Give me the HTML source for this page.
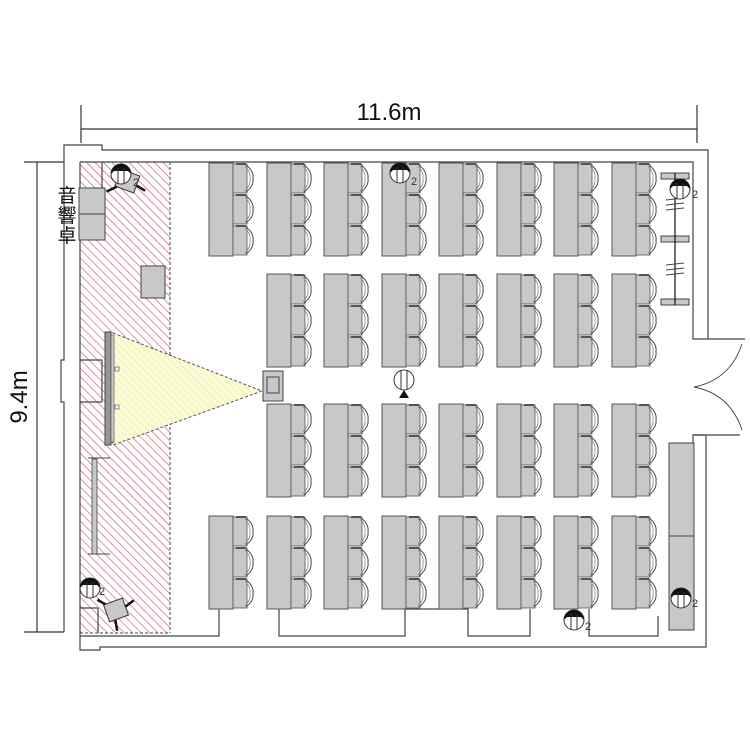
<!DOCTYPE html>
<html><head><meta charset="utf-8"><style>
html,body{margin:0;padding:0;background:#fff;}
svg{display:block;}
</style></head><body>
<svg width="750" height="750" viewBox="0 0 750 750" xmlns="http://www.w3.org/2000/svg">
<defs>
<pattern id="hatch" patternUnits="userSpaceOnUse" width="6" height="6" patternTransform="rotate(-45)">
<rect width="6" height="6" fill="#fff"/>
<line x1="0" y1="0" x2="0" y2="6" stroke="#c85a6e" stroke-width="1.3"/>
</pattern>
<pattern id="yhatch" patternUnits="userSpaceOnUse" width="5" height="5" patternTransform="rotate(-45)">
<rect width="5" height="5" fill="#fbfbd8"/>
<line x1="0" y1="0" x2="0" y2="5" stroke="#e6e69a" stroke-width="1"/>
</pattern>
<g id="chair">
<rect x="0" y="1" width="14" height="29" fill="#c8c8c8" stroke="#555" stroke-width="0.8"/>
<path d="M13,2 Q21,8 20,15.5 Q21,23 13,29" fill="none" stroke="#444" stroke-width="1"/>
<path d="M12,3 Q18,9 17,15.5 Q18,22 12,28" fill="none" stroke="#888" stroke-width="0.8"/>
<rect x="3" y="0" width="10" height="2" fill="#555"/>
</g>
<g id="unit">
<rect x="0" y="0" width="24" height="93" fill="#c8c8c8" stroke="#555" stroke-width="1"/>
<use href="#chair" x="24" y="0"/>
<use href="#chair" x="24" y="31"/>
<use href="#chair" x="24" y="62"/>
</g>
<g id="mic">
<circle cx="0" cy="0" r="10" fill="#fff" stroke="#333" stroke-width="1"/>
<path d="M-10,0 A10,10 0 0 1 10,0 L7,-3 L-7,-3 Z" fill="#111"/>
<path d="M-8,-5 A10,10 0 0 1 8,-5 Z" fill="#111"/>
<line x1="-3" y1="-6" x2="-3" y2="10" stroke="#333"/>
<line x1="3" y1="-6" x2="3" y2="10" stroke="#333"/>
</g>
</defs>

<!-- dimension lines -->
<line x1="81" y1="129" x2="697" y2="129" stroke="#333" stroke-width="1.2"/>
<line x1="81" y1="105" x2="81" y2="143" stroke="#333" stroke-width="1.2"/>
<line x1="697" y1="105" x2="697" y2="143" stroke="#333" stroke-width="1.2"/>
<text x="389" y="120" font-family="Liberation Sans, sans-serif" font-size="24" text-anchor="middle" fill="#111">11.6m</text>
<line x1="37" y1="162" x2="37" y2="632" stroke="#333" stroke-width="1.2"/>
<line x1="24" y1="162" x2="64" y2="162" stroke="#333" stroke-width="1.2"/>
<line x1="24" y1="632" x2="64" y2="632" stroke="#333" stroke-width="1.2"/>
<text x="0" y="0" transform="translate(27,397) rotate(-90)" font-family="Liberation Sans, sans-serif" font-size="24" text-anchor="middle" fill="#111">9.4m</text>

<!-- hatched stage area -->
<rect x="80" y="162" width="90" height="471" fill="url(#hatch)"/>
<line x1="170" y1="162" x2="170" y2="633" stroke="#444" stroke-dasharray="3,2"/>
<line x1="80" y1="633" x2="170" y2="633" stroke="#444" stroke-dasharray="3,2"/>

<!-- walls -->
<g fill="none" stroke="#444" stroke-width="1.2">
<path d="M64,632 L64,402 L61,402 L61,360 L64,360 L64,145 L102,145 L102,150 L708,150 L708,339"/>
<path d="M80,162 L693,162 L693,339 L745,339"/>
<path d="M80,162 L80,636 L219,636 L219,609"/>
<path d="M279,609 L279,636 L405,636 L405,609 L468,609 L468,636 L530,636 L530,609"/>
<path d="M589,609 L589,636 L658,636 L658,616"/>
<path d="M80,636 L80,650 L100,650 L100,647 L706,647 L706,435 L693,435 L693,447"/>
<path d="M693,435 L740,435"/>
<path d="M694,387 Q730,380 742,344" stroke-width="0.9"/>
<path d="M694,387 Q730,394 742,430" stroke-width="0.9"/>
<line x1="80" y1="402" x2="102" y2="402"/>
<line x1="80" y1="360" x2="102" y2="360"/>
<line x1="102" y1="360" x2="102" y2="402"/>
<line x1="102" y1="162" x2="102" y2="188"/>
<line x1="80" y1="608" x2="98" y2="608"/>
<line x1="98" y1="608" x2="98" y2="633"/>
</g>

<!-- audio desk -->
<rect x="79" y="188" width="26" height="26" fill="#c8c8c8" stroke="#444"/>
<rect x="79" y="214" width="26" height="26" fill="#c8c8c8" stroke="#444"/>
<text x="67" y="202" font-family="Liberation Sans, 'Noto Sans CJK JP', sans-serif" font-size="19" text-anchor="middle" fill="#111">音</text>
<text x="67" y="222" font-family="Liberation Sans, 'Noto Sans CJK JP', sans-serif" font-size="19" text-anchor="middle" fill="#111">響</text>
<text x="67" y="242" font-family="Liberation Sans, 'Noto Sans CJK JP', sans-serif" font-size="19" text-anchor="middle" fill="#111">卓</text>

<!-- podium box -->
<rect x="141" y="266" width="24" height="32" fill="#c8c8c8" stroke="#444"/>

<!-- projection cone -->
<polygon points="113,333 262,391 113,445" fill="url(#yhatch)" stroke="#555" stroke-dasharray="3,2"/>
<rect x="105" y="332" width="6" height="113" fill="#999" stroke="#444"/>
<rect x="111" y="335" width="3" height="107" fill="#ccc" stroke="#444" stroke-width="0.6"/>
<rect x="115" y="367" width="4" height="4" fill="#fff" stroke="#444" stroke-width="0.6"/>
<rect x="115" y="405" width="4" height="4" fill="#fff" stroke="#444" stroke-width="0.6"/>
<!-- projector -->
<rect x="263" y="371" width="20" height="30" fill="#c8c8c8" stroke="#444"/>
<rect x="267" y="377" width="12" height="16" fill="#c8c8c8" stroke="#444"/>

<!-- whiteboard stand -->
<line x1="88" y1="458" x2="110" y2="458" stroke="#444"/>
<line x1="88" y1="554" x2="110" y2="554" stroke="#444"/>
<rect x="92" y="459" width="5" height="95" fill="#c8c8c8" stroke="#444" stroke-width="0.8"/>

<!-- cameras -->
<g transform="translate(127,182) rotate(20)">
<rect x="-10" y="-10" width="20" height="18" fill="#c8c8c8" stroke="#333"/>
<line x1="-8" y1="8" x2="-16" y2="16" stroke="#111" stroke-width="2.5"/>
<line x1="10" y1="0" x2="20" y2="2" stroke="#111" stroke-width="2.5"/>
</g>
<use href="#mic" x="121" y="174"/>
<text x="133" y="186" font-family="Liberation Sans, sans-serif" font-size="11" fill="#333">2</text>

<g transform="translate(116,610) rotate(-20)">
<rect x="-10" y="-9" width="20" height="18" fill="#c8c8c8" stroke="#333"/>
<line x1="-8" y1="-9" x2="-14" y2="-16" stroke="#111" stroke-width="2.5"/>
<line x1="10" y1="0" x2="20" y2="-3" stroke="#111" stroke-width="2.5"/>
<line x1="-4" y1="9" x2="-6" y2="20" stroke="#111" stroke-width="2.5"/>
</g>
<use href="#mic" x="90" y="588"/>
<text x="99" y="595" font-family="Liberation Sans, sans-serif" font-size="11" fill="#333">2</text>

<!-- desks row 1 -->
<use href="#unit" x="209" y="163"/><use href="#unit" x="267" y="163"/><use href="#unit" x="324" y="163"/><use href="#unit" x="382" y="163"/>
<use href="#unit" x="439" y="163"/><use href="#unit" x="497" y="163"/><use href="#unit" x="554" y="163"/><use href="#unit" x="612" y="163"/>
<!-- row 2 -->
<use href="#unit" x="267" y="274"/><use href="#unit" x="324" y="274"/><use href="#unit" x="382" y="274"/>
<use href="#unit" x="439" y="274"/><use href="#unit" x="497" y="274"/><use href="#unit" x="554" y="274"/><use href="#unit" x="612" y="274"/>
<!-- row 3 -->
<use href="#unit" x="267" y="404"/><use href="#unit" x="324" y="404"/><use href="#unit" x="382" y="404"/>
<use href="#unit" x="439" y="404"/><use href="#unit" x="497" y="404"/><use href="#unit" x="554" y="404"/><use href="#unit" x="612" y="404"/>
<!-- row 4 -->
<use href="#unit" x="209" y="516"/><use href="#unit" x="267" y="516"/><use href="#unit" x="324" y="516"/><use href="#unit" x="382" y="516"/>
<use href="#unit" x="439" y="516"/><use href="#unit" x="497" y="516"/><use href="#unit" x="554" y="516"/><use href="#unit" x="612" y="516"/>

<!-- mics on desks -->
<use href="#mic" x="400" y="173"/>
<text x="411" y="185" font-family="Liberation Sans, sans-serif" font-size="11" fill="#333">2</text>
<use href="#mic" x="574" y="620"/>
<text x="585" y="630" font-family="Liberation Sans, sans-serif" font-size="11" fill="#333">2</text>

<!-- center mic with arrow -->
<ellipse cx="404" cy="380" rx="10" ry="10" fill="#fff" stroke="#333"/>
<line x1="401" y1="370" x2="401" y2="390" stroke="#333"/>
<line x1="407" y1="370" x2="407" y2="390" stroke="#333"/>
<polygon points="404,390 399,398 409,398" fill="#111"/>

<!-- right side stand -->
<rect x="661" y="173" width="28" height="6" fill="#c8c8c8" stroke="#444"/>
<rect x="661" y="236" width="28" height="6" fill="#c8c8c8" stroke="#444"/>
<rect x="661" y="299" width="28" height="6" fill="#c8c8c8" stroke="#444"/>
<line x1="675" y1="173" x2="675" y2="305" stroke="#111" stroke-width="1.2"/>
<g stroke="#444" stroke-width="0.9">
<line x1="666" y1="200" x2="684" y2="198"/><line x1="666" y1="205" x2="684" y2="203"/><line x1="666" y1="210" x2="684" y2="208"/>
<line x1="666" y1="265" x2="684" y2="263"/><line x1="666" y1="270" x2="684" y2="268"/><line x1="666" y1="275" x2="684" y2="273"/>
</g>
<use href="#mic" x="680" y="189"/>
<text x="692" y="198" font-family="Liberation Sans, sans-serif" font-size="11" fill="#333">2</text>

<!-- right cabinet -->
<rect x="669" y="443" width="25" height="93" fill="#c8c8c8" stroke="#444"/>
<rect x="669" y="536" width="25" height="94" fill="#c8c8c8" stroke="#444"/>
<use href="#mic" x="681" y="598"/>
<text x="692" y="607" font-family="Liberation Sans, sans-serif" font-size="11" fill="#333">2</text>
</svg>
</body></html>
